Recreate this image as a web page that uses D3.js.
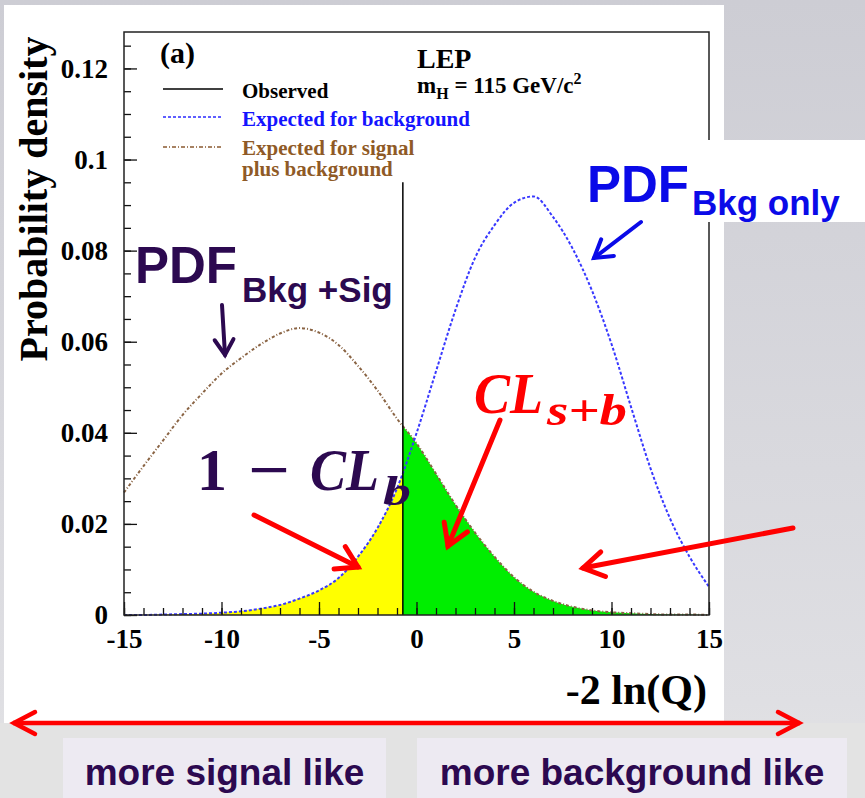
<!DOCTYPE html>
<html>
<head>
<meta charset="utf-8">
<script src="https://cdn.jsdelivr.net/npm/d3@7"></script>
<style>
  body { margin: 0; background: #ffffff; }
  svg { display: block; }
</style>
</head>
<body>
<svg id="chart" width="865" height="798"></svg>
<script>
// -2 ln(Q) sample positions and the two expected distributions
const lnQ = [-15,-14,-13,-12,-11,-10,-9,-8,-7,-6,-5,-4,-3,-2,-1,0,1,2,3,4,5,6,7,8,9,10,11,12,13,14,15];
const bkgOnly = [0.0000,0.0000,0.0001,0.0002,0.0003,0.0005,0.0008,0.0014,0.0022,0.0036,0.0054,0.0081,0.0128,0.0191,0.0278,
                 0.0399,0.0535,0.0670,0.0784,0.0856,0.0905,0.0919,0.0874,0.0805,0.0712,0.0595,0.0457,0.0322,0.0212,0.0128,0.0062];
const sigPlusBkg = [0.0269,0.0327,0.0383,0.0439,0.0486,0.0530,0.0564,0.0594,0.0618,0.0630,0.0620,0.0593,0.0547,0.0493,0.0431,
                    0.0377,0.0310,0.0242,0.0181,0.0128,0.0083,0.0051,0.0031,0.0018,0.0010,0.0006,0.0004,0.0002,0.0001,0.0001,0.0000];
const observed = -0.7;
const observedTop = 0.095;

const xTicks = [-15,-10,-5,0,5,10,15];
const xMinorTicks = [-15,-14,-13,-12,-11,-10,-9,-8,-7,-6,-5,-4,-3,-2,-1,0,1,2,3,4,5,6,7,8,9,10,11,12,13,14,15];
const yTicks = [0,0.02,0.04,0.06,0.08,0.1,0.12];
const yMinorTicks = [0,0.005,0.01,0.015,0.02,0.025,0.03,0.035,0.04,0.045,0.05,0.055,0.06,0.065,0.07,0.075,0.08,0.085,0.09,0.095,0.1,0.105,0.11,0.115,0.12,0.125];

const legendItems = ["Observed", "Expected for background", "Expected for signal", "plus background"];

const bkgData = lnQ.map((v, i) => ({x: v, y: bkgOnly[i]}));
const sbData = lnQ.map((v, i) => ({x: v, y: sigPlusBkg[i]}));

const svg = d3.select("#chart");
const serif = "'Liberation Serif', 'Times New Roman', serif";
const sans = "'Liberation Sans', Arial, sans-serif";
const purple = "#2c0950";
const red = "#ff0000";

// page background
const defs = svg.append("defs");
const grad = defs.append("linearGradient").attr("id", "bg").attr("x1", 0).attr("y1", 0).attr("x2", 0).attr("y2", 1);
grad.append("stop").attr("offset", "0%").attr("stop-color", "#cdcdd4");
grad.append("stop").attr("offset", "88%").attr("stop-color", "#dfdfe3");
grad.append("stop").attr("offset", "100%").attr("stop-color", "#e4e4e5");
svg.append("rect").attr("width", 865).attr("height", 798).attr("fill", "url(#bg)");
svg.append("rect").attr("x", 0).attr("y", 723).attr("width", 865).attr("height", 75).attr("fill", "#e3e3e3");

// white panel holding the plot
svg.append("rect").attr("x", 4).attr("y", 5).attr("width", 720).attr("height", 718).attr("fill", "#ffffff");

const x = d3.scaleLinear().domain([-15, 15]).range([124, 709]);
const y = d3.scaleLinear().domain([0, 0.128]).range([615, 32]);

defs.append("clipPath").attr("id", "leftOfObs").append("rect")
  .attr("x", x(-15)).attr("y", y(0.128)).attr("width", x(observed) - x(-15)).attr("height", y(0) - y(0.128));
defs.append("clipPath").attr("id", "rightOfObs").append("rect")
  .attr("x", x(observed)).attr("y", y(0.128)).attr("width", x(15) - x(observed)).attr("height", y(0) - y(0.128));

const area = d3.area().x(d => x(d.x)).y0(y(0)).y1(d => y(d.y)).curve(d3.curveMonotoneX);
const line = d3.line().x(d => x(d.x)).y(d => y(d.y)).curve(d3.curveMonotoneX);

// 1 - CL_b: background tail below the observed value
svg.append("path").datum(bkgData).attr("d", area).attr("fill", "#ffff00").attr("clip-path", "url(#leftOfObs)");
// CL_s+b: signal+background tail above the observed value
svg.append("path").datum(sbData).attr("d", area).attr("fill", "#00ee00").attr("clip-path", "url(#rightOfObs)");

// expected distributions
svg.append("path").datum(sbData).attr("d", line).attr("fill", "none")
  .attr("stroke", "#8a6444").attr("stroke-width", 2).attr("stroke-dasharray", "3,2,1,2");
svg.append("path").datum(bkgData).attr("d", line).attr("fill", "none")
  .attr("stroke", "#3838ff").attr("stroke-width", 2).attr("stroke-dasharray", "3,2");

// observed value
svg.append("line").attr("x1", x(observed)).attr("x2", x(observed))
  .attr("y1", y(0)).attr("y2", y(observedTop)).attr("stroke", "#000").attr("stroke-width", 1.5);

// axes
function styleAxis(g) {
  g.select(".domain").remove();
  g.selectAll(".tick line").attr("stroke", "#111").attr("stroke-width", 1.3);
  g.selectAll("text").attr("font-family", serif).attr("font-weight", "bold").attr("font-size", 27).attr("fill", "#000");
}
svg.append("g").attr("transform", `translate(0,${y(0)})`)
  .call(d3.axisBottom(x).tickValues(xMinorTicks).tickSize(-7).tickFormat(""))
  .call(styleAxis);
svg.append("g").attr("transform", `translate(0,${y(0)})`)
  .call(d3.axisBottom(x).tickValues(xTicks).tickSize(-13).tickPadding(14).tickFormat(d => String(d)))
  .call(styleAxis);
svg.append("g").attr("transform", `translate(${x(-15)},0)`)
  .call(d3.axisLeft(y).tickValues(yMinorTicks).tickSize(-7).tickFormat(""))
  .call(styleAxis);
svg.append("g").attr("transform", `translate(${x(-15)},0)`)
  .call(d3.axisLeft(y).tickValues(yTicks).tickSize(-13).tickPadding(16).tickFormat(d => d === 0 ? "0" : String(+d.toFixed(2))))
  .call(styleAxis);

// frame
svg.append("rect").attr("x", x(-15)).attr("y", y(0.128)).attr("width", x(15) - x(-15)).attr("height", y(0) - y(0.128))
  .attr("fill", "none").attr("stroke", "#222").attr("stroke-width", 1.5);

// axis titles
svg.append("text").attr("transform", "translate(47,199) rotate(-90)").attr("text-anchor", "middle")
  .attr("font-family", serif).attr("font-weight", "bold").attr("font-size", 40).text("Probability density");
svg.append("text").attr("x", 707).attr("y", 704).attr("text-anchor", "end")
  .attr("font-family", serif).attr("font-weight", "bold").attr("font-size", 42).text("-2 ln(Q)");

// panel label and legend
svg.append("text").attr("x", 160).attr("y", 63).attr("font-family", serif).attr("font-weight", "bold").attr("font-size", 30).text("(a)");
svg.append("text").attr("x", 417).attr("y", 68).attr("font-family", serif).attr("font-weight", "bold").attr("font-size", 28).text("LEP");
const mh = svg.append("text").attr("x", 417).attr("y", 93).attr("font-family", serif).attr("font-weight", "bold").attr("font-size", 23);
mh.append("tspan").text("m");
mh.append("tspan").attr("font-size", 16).attr("dy", 6).text("H");
mh.append("tspan").attr("dy", -6).text(" = 115 GeV/c");
mh.append("tspan").attr("font-size", 16).attr("dy", -9).text("2");

svg.append("line").attr("x1", 163).attr("x2", 223).attr("y1", 89).attr("y2", 89).attr("stroke", "#000").attr("stroke-width", 1.5);
svg.append("line").attr("x1", 163).attr("x2", 223).attr("y1", 117).attr("y2", 117).attr("stroke", "#2a2aff").attr("stroke-width", 1.5).attr("stroke-dasharray", "3,2");
svg.append("line").attr("x1", 163).attr("x2", 223).attr("y1", 147).attr("y2", 147).attr("stroke", "#8a5a30").attr("stroke-width", 1.5).attr("stroke-dasharray", "4,2,1,2");
const legendColors = ["#000000", "#1414ff", "#8f5a26", "#8f5a26"];
const legendY = [98, 126, 155, 176];
legendItems.forEach((t, i) => {
  svg.append("text").attr("x", 242).attr("y", legendY[i]).attr("font-family", serif).attr("font-weight", "bold")
    .attr("font-size", 21).attr("fill", legendColors[i]).text(t);
});

// arrow helper: shaft plus open chevron head
function arrow(x1, y1, x2, y2, color, width, head) {
  const a = Math.atan2(y2 - y1, x2 - x1);
  const spread = 0.55;
  svg.append("line").attr("x1", x1).attr("y1", y1).attr("x2", x2).attr("y2", y2)
    .attr("stroke", color).attr("stroke-width", width).attr("stroke-linecap", "round");
  const p1 = [x2 - head * Math.cos(a - spread), y2 - head * Math.sin(a - spread)];
  const p2 = [x2 - head * Math.cos(a + spread), y2 - head * Math.sin(a + spread)];
  svg.append("polyline").attr("points", `${p1} ${x2},${y2} ${p2}`).attr("fill", "none")
    .attr("stroke", color).attr("stroke-width", width).attr("stroke-linecap", "round").attr("stroke-linejoin", "miter");
}

// PDF labels
svg.append("rect").attr("x", 600).attr("y", 140).attr("width", 265).attr("height", 82).attr("fill", "#ffffff");
svg.append("text").attr("x", 587).attr("y", 202).attr("font-family", sans).attr("font-weight", "bold").attr("font-size", 51).attr("fill", "#0a0ae8").text("PDF");
svg.append("text").attr("x", 692).attr("y", 215).attr("font-family", sans).attr("font-weight", "bold").attr("font-size", 35).attr("fill", "#0a0ae8").text("Bkg only");
arrow(641, 222, 594, 258, "#0a0ae8", 4, 20);

svg.append("text").attr("x", 135).attr("y", 283).attr("font-family", sans).attr("font-weight", "bold").attr("font-size", 51).attr("fill", purple).text("PDF");
svg.append("text").attr("x", 242).attr("y", 302).attr("font-family", sans).attr("font-weight", "bold").attr("font-size", 35).attr("fill", purple).text("Bkg +Sig");
arrow(222, 305, 225, 355, purple, 4, 18);

// 1 - CL_b
svg.append("text").attr("x", 197).attr("y", 490).attr("font-family", serif).attr("font-weight", "bold").attr("font-size", 60).attr("fill", purple).text("1");
svg.append("text").attr("x", 248).attr("y", 490).attr("font-family", serif).attr("font-weight", "bold").attr("font-size", 60).attr("fill", purple)
  .attr("textLength", 42).attr("lengthAdjust", "spacingAndGlyphs").text("\u2212");
svg.append("text").attr("x", 310).attr("y", 490).attr("font-family", serif).attr("font-weight", "bold").attr("font-style", "italic")
  .attr("font-size", 60).attr("fill", purple).attr("textLength", 69).attr("lengthAdjust", "spacingAndGlyphs").text("CL");
svg.append("text").attr("x", 383).attr("y", 505).attr("font-family", serif).attr("font-weight", "bold").attr("font-style", "italic")
  .attr("font-size", 42).attr("fill", purple).attr("textLength", 28).attr("lengthAdjust", "spacingAndGlyphs").text("b");
arrow(254, 515, 358, 567, red, 5, 24);

// CL_s+b
svg.append("text").attr("x", 474).attr("y", 413).attr("font-family", serif).attr("font-weight", "bold").attr("font-style", "italic")
  .attr("font-size", 56).attr("fill", red).attr("textLength", 69).attr("lengthAdjust", "spacingAndGlyphs").text("CL");
svg.append("text").attr("x", 547).attr("y", 425).attr("font-family", serif).attr("font-weight", "bold").attr("font-style", "italic")
  .attr("font-size", 44).attr("fill", red).attr("textLength", 80).attr("lengthAdjust", "spacingAndGlyphs").text("s+b");
arrow(500, 420, 448, 546, red, 5, 24);
arrow(793, 528, 583, 568, red, 5, 24);

// direction arrow and captions
svg.append("line").attr("x1", 13).attr("x2", 800).attr("y1", 723).attr("y2", 723).attr("stroke", red).attr("stroke-width", 4.5);
svg.append("polyline").attr("points", "35,712 14,723 35,734").attr("fill", "none").attr("stroke", red).attr("stroke-width", 4.5).attr("stroke-linecap", "round");
svg.append("polyline").attr("points", "778,712 799,723 778,734").attr("fill", "none").attr("stroke", red).attr("stroke-width", 4.5).attr("stroke-linecap", "round");

const captions = [{x0: 63, x1: 386, t: "more signal like"}, {x0: 417, x1: 847, t: "more background like"}];
captions.forEach(c => {
  svg.append("rect").attr("x", c.x0).attr("y", 738).attr("width", c.x1 - c.x0).attr("height", 60).attr("fill", "#edeaf2");
  svg.append("text").attr("x", (c.x0 + c.x1) / 2).attr("y", 785).attr("text-anchor", "middle")
    .attr("font-family", sans).attr("font-weight", "bold").attr("font-size", 37).attr("fill", purple).text(c.t);
});
</script>
</body>
</html>
